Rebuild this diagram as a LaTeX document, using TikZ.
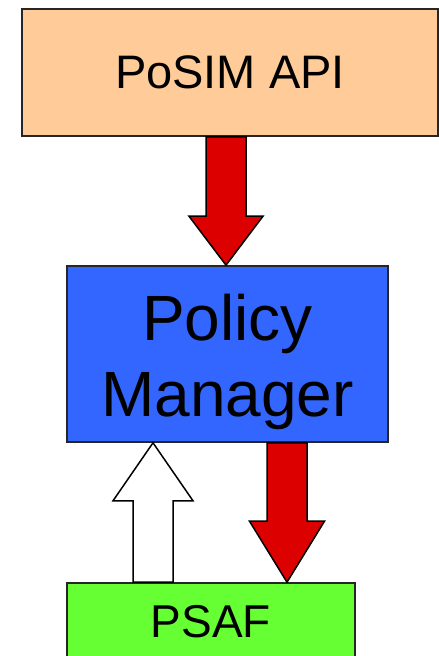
\documentclass[tikz,border=0pt]{standalone}
\usepackage{fontspec}
\setmainfont{Liberation Sans}
\usetikzlibrary{calc}
\definecolor{peach}{HTML}{FFCC99}
\definecolor{pmblue}{HTML}{3366FF}
\definecolor{arrred}{HTML}{DD0000}
\definecolor{psafgreen}{HTML}{66FF33}
\newcommand{\blockarr}[6]{%
  \coordinate (hb) at ($(#3)!#4!(#2)$);
  \draw[#1] ($(#2)!#6!90:(#3)$) -- ($(hb)!#6!90:(#3)$) -- ($(hb)!#5!90:(#3)$) -- (#3)
    -- ($(hb)!#5!-90:(#3)$) -- ($(hb)!#6!-90:(#3)$) -- ($(#2)!#6!-90:(#3)$) -- cycle;}
\begin{document}
\begin{tikzpicture}[x=1pt,y=-1pt,
  box/.style={draw=black!85, line width=1.6pt, inner sep=0pt},
  redarr/.style={draw=black, fill=arrred, line width=1.5pt, line join=miter},
  whitearr/.style={draw=black, fill=white, line width=1.5pt, line join=miter}]
\useasboundingbox (0,0) rectangle (439,656);
\clip (0,0) rectangle (439,656);
\node[box, fill=peach, minimum width=416pt, minimum height=127pt] (api) at (230,72.5) {};
\node[box, fill=pmblue, minimum width=321pt, minimum height=176pt] (pm) at (227.5,354) {};
\node[box, fill=psafgreen, minimum width=288pt, minimum height=77pt] (psaf) at (211,621.5) {};
\node[font=\fontsize{47}{56}\selectfont, inner sep=0pt] (apit) at (api.center) {PoSIM API};
\node[font=\fontsize{64}{76}\selectfont, align=center, inner sep=0pt] (pmt) at ($(pm.center)+(0,8)$) {Policy\\Manager};
\node[font=\fontsize{46}{55}\selectfont, inner sep=0pt] (psaft) at (psaf.center) {PSAF};
\coordinate (a1s) at (api.south -| 226,0);
\coordinate (a1e) at (pm.north -| 226,0);
\coordinate (a2s) at (psaf.north -| 153,0);
\coordinate (a2e) at (pm.south -| 153,0);
\coordinate (a3s) at (pm.south -| 287,0);
\coordinate (a3e) at (psaf.north -| 287,0);
\blockarr{redarr}{a1s}{a1e}{49pt}{37pt}{20pt}
\blockarr{whitearr}{a2s}{a2e}{58pt}{40pt}{20pt}
\blockarr{redarr}{a3s}{a3e}{61pt}{37.5pt}{20pt}
\end{tikzpicture}
\end{document}
